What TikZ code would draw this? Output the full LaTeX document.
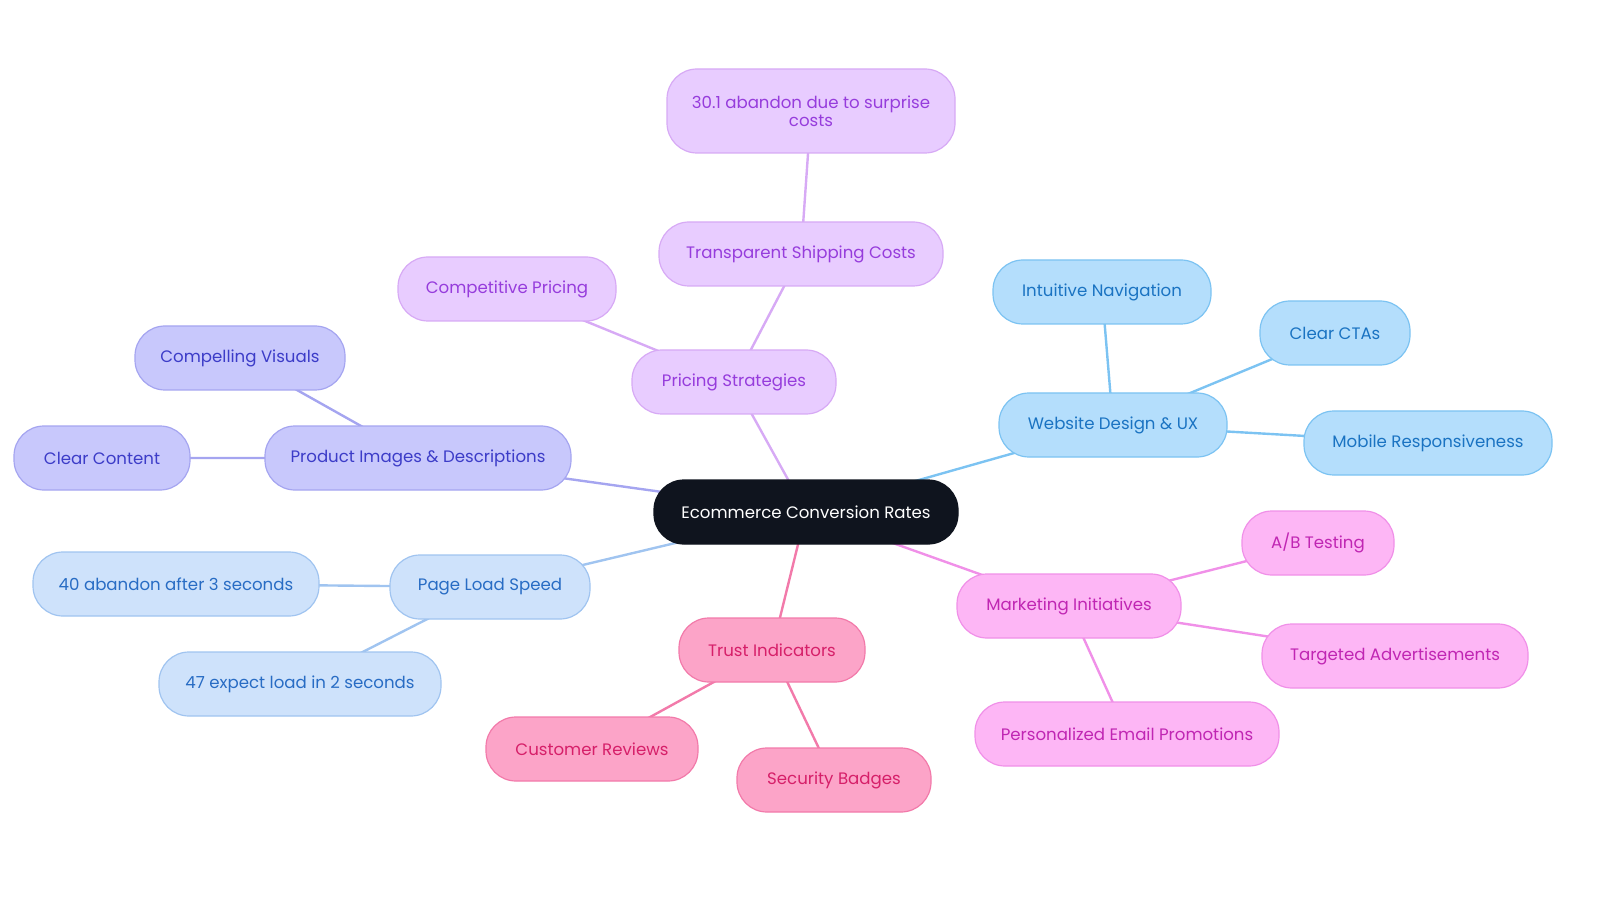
\documentclass[tikz,border=0pt]{standalone}
\usepackage{fontspec}
\setmainfont{Poppins}
\usetikzlibrary{backgrounds}
\begin{document}
\begin{tikzpicture}[x=0.5pt,y=-0.5pt,
 box/.style={rounded corners=15pt,draw,line width=0.6pt,minimum height=32pt,align=center,font=\fontsize{8.3pt}{10pt}\selectfont,inner sep=0pt},
 pur/.style={box,fill={rgb,255:red,232;green,204;blue,255},draw={rgb,255:red,215;green,170;blue,245},text={rgb,255:red,150;green,60;blue,220}},
 ind/.style={box,fill={rgb,255:red,200;green,200;blue,252},draw={rgb,255:red,165;green,165;blue,240},text={rgb,255:red,60;green,60;blue,200}},
 lb/.style={box,fill={rgb,255:red,206;green,226;blue,251},draw={rgb,255:red,160;green,196;blue,240},text={rgb,255:red,40;green,108;blue,196}},
 pk/.style={box,fill={rgb,255:red,252;green,164;blue,200},draw={rgb,255:red,242;green,122;blue,170},text={rgb,255:red,214;green,31;blue,105}},
 mg/.style={box,fill={rgb,255:red,253;green,182;blue,245},draw={rgb,255:red,240;green,144;blue,232},text={rgb,255:red,192;green,38;blue,179}},
 sb/.style={box,fill={rgb,255:red,180;green,222;blue,252},draw={rgb,255:red,124;green,195;blue,242},text={rgb,255:red,26;green,115;blue,194}},
 e/.style={line width=1.2pt}]
\useasboundingbox (0,0) rectangle (1600,903);
\node[box,fill={rgb,255:red,15;green,20;blue,30},draw={rgb,255:red,15;green,20;blue,30},text=white,minimum width=152pt] (root) at (806,512) {Ecommerce Conversion Rates};
\node[pur,minimum width=102pt] (ps) at (734,382) {Pricing Strategies};
\node[pur,minimum width=142pt] (tsc) at (801,254) {Transparent Shipping Costs};
\node[pur,minimum width=144pt,minimum height=42pt] (sur) at (811,111) {30.1 abandon due to surprise\\[-1pt]costs};
\node[pur,minimum width=109pt] (cp) at (507,289) {Competitive Pricing};
\node[ind,minimum width=153pt] (pid) at (418,458) {Product Images \& Descriptions};
\node[ind,minimum width=105pt] (cv) at (240,358) {Compelling Visuals};
\node[ind,minimum width=88pt] (cc) at (102,458) {Clear Content};
\node[lb,minimum width=100pt] (pls) at (490,587) {Page Load Speed};
\node[lb,minimum width=143pt] (a40) at (176,584) {40 abandon after 3 seconds};
\node[lb,minimum width=141pt] (a47) at (300,684) {47 expect load in 2 seconds};
\node[pk,minimum width=93pt] (ti) at (772,650) {Trust Indicators};
\node[pk,minimum width=106pt] (cr) at (592,749) {Customer Reviews};
\node[pk,minimum width=97pt] (sbg) at (834,780) {Security Badges};
\node[mg,minimum width=112pt] (mi) at (1069,606) {Marketing Initiatives};
\node[mg,minimum width=76pt] (ab) at (1318,543) {A/B Testing};
\node[mg,minimum width=133pt] (ta) at (1395,656) {Targeted Advertisements};
\node[mg,minimum width=152pt] (pep) at (1127,734) {Personalized Email Promotions};
\node[sb,minimum width=114pt] (wd) at (1113,425) {Website Design \& UX};
\node[sb,minimum width=109pt] (in) at (1102,292) {Intuitive Navigation};
\node[sb,minimum width=75pt] (cta) at (1335,333) {Clear CTAs};
\node[sb,minimum width=124pt] (mr) at (1428,443) {Mobile Responsiveness};
\begin{scope}[on background layer]
\draw[e,draw={rgb,255:red,215;green,170;blue,245}] (root.center)--(ps.center) (ps.center)--(tsc.center) (tsc.center)--(sur.center) (ps.center)--(cp.center);
\draw[e,draw={rgb,255:red,165;green,165;blue,240}] (root.center)--(pid.center) (pid.center)--(cv.center) (pid.center)--(cc.center);
\draw[e,draw={rgb,255:red,160;green,196;blue,240}] (root.center)--(pls.center) (pls.center)--(a40.center) (pls.center)--(a47.center);
\draw[e,draw={rgb,255:red,242;green,122;blue,170}] (root.center)--(ti.center) (ti.center)--(cr.center) (ti.center)--(sbg.center);
\draw[e,draw={rgb,255:red,240;green,144;blue,232}] (root.center)--(mi.center) (mi.center)--(ab.center) (mi.center)--(ta.center) (mi.center)--(pep.center);
\draw[e,draw={rgb,255:red,124;green,195;blue,242}] (root.center)--(wd.center) (wd.center)--(in.center) (wd.center)--(cta.center) (wd.center)--(mr.center);
\end{scope}
\end{tikzpicture}
\end{document}
